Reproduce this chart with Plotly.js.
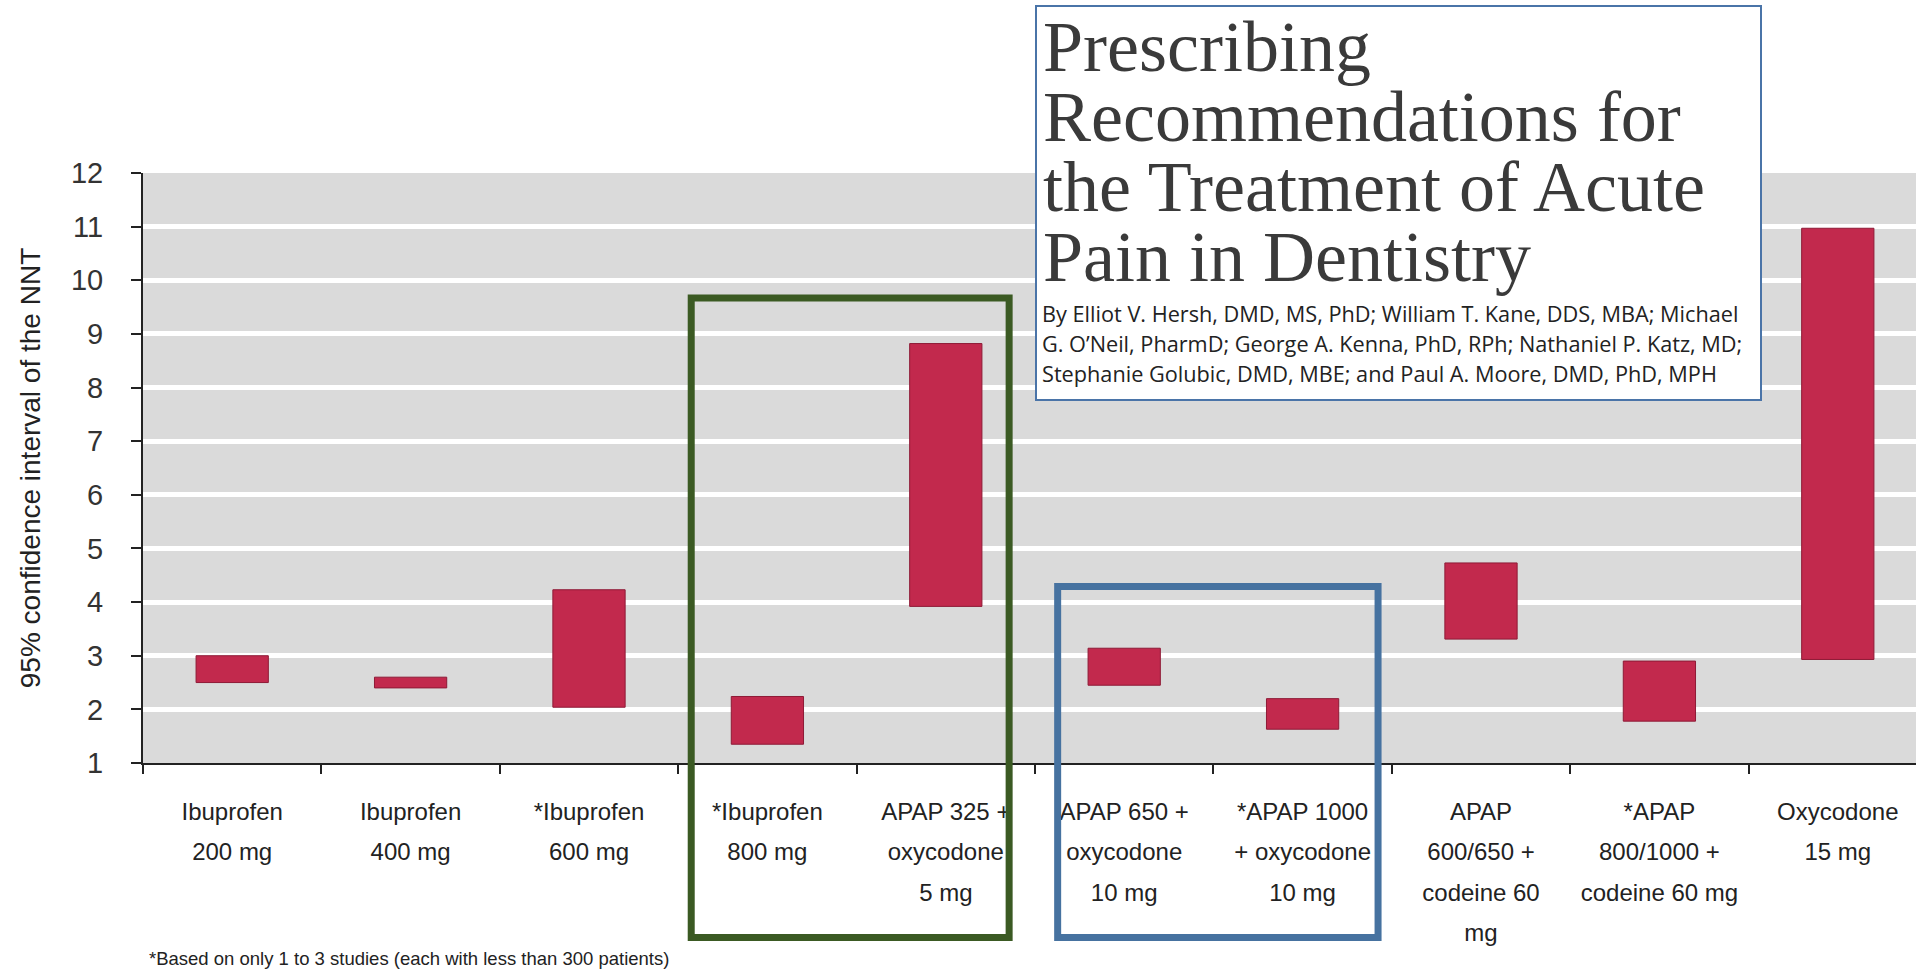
<!DOCTYPE html>
<html>
<head>
<meta charset="utf-8">
<script src="https://cdn.plot.ly/plotly-3.0.1.min.js"></script>
<style>
  html, body { margin: 0; padding: 0; background: #ffffff; }
  #chart { width: 1916px; height: 970px; }
</style>
</head>
<body>
<div id="chart"></div>
<script>
// ---- Data ----
const categories = [
  "Ibuprofen<br>200 mg",
  "Ibuprofen<br>400 mg",
  "*Ibuprofen<br>600 mg",
  "*Ibuprofen<br>800 mg",
  "APAP 325 +<br>oxycodone<br>5 mg",
  "APAP 650 +<br>oxycodone<br>10 mg",
  "*APAP 1000<br>+ oxycodone<br>10 mg",
  "APAP<br>600/650 +<br>codeine 60<br>mg",
  "*APAP<br>800/1000 +<br>codeine 60 mg",
  "Oxycodone<br>15 mg"
];
// lower and upper limits of the 95% confidence interval of the NNT
const ciLow  = [2.50, 2.40, 2.04, 1.35, 3.92, 2.45, 1.63, 3.31, 1.78, 2.93];
const ciHigh = [3.00, 2.60, 4.23, 2.24, 8.82, 3.14, 2.20, 4.73, 2.90, 10.97];
const yTickValues = [1, 2, 3, 4, 5, 6, 7, 8, 9, 10, 11, 12];

const titleLines = [
  "Prescribing",
  "Recommendations for",
  "the Treatment of Acute",
  "Pain in Dentistry"
];
const authorLines = [
  "By Elliot V. Hersh, DMD, MS, PhD; William T. Kane, DDS, MBA; Michael",
  "G. O\u2019Neil, PharmD; George A. Kenna, PhD, RPh; Nathaniel P. Katz, MD;",
  "Stephanie Golubic, DMD, MBE; and Paul A. Moore, DMD, PhD, MPH"
];
const footnote = "*Based on only 1 to 3 studies (each with less than 300 patients)";
const yTitle = "95% confidence interval of the NNT";

// ---- Layout helpers (pixel geometry of the page) ----
const W = 1916, H = 970;
const M = { l: 143, r: 0, t: 173, b: 207 };
const plotH = H - M.t - M.b;
const plotW = W - M.l - M.r;
const py = (pix) => (H - M.b - pix) / plotH;     // page pixel y -> paper y
const px = (pix) => (pix - M.l) / plotW;         // page pixel x -> paper x

const sans = "'Liberation Sans', Arial, sans-serif";
const TITLE_SIZE = 72, AUTHOR_SIZE = 21.7;
const TITLE_LEAD = 70, AUTHOR_LEAD = 30;   // px between baselines in the reference

const trace = {
  type: "bar",
  x: categories,
  y: ciHigh.map((h, i) => h - ciLow[i]),
  base: ciLow,
  width: 0.405,
  marker: { color: "#c2294d", line: { color: "#8e1a36", width: 1 } },
  hoverinfo: "skip"
};

const annotations = [
  { xref: "paper", yref: "paper",
    x: px(1041), xanchor: "left", align: "left",
    y: py(5), yanchor: "top",
    text: titleLines.join("<br>"), showarrow: false,
    font: { family: "'Liberation Serif', 'DejaVu Serif', serif", size: TITLE_SIZE, color: "#3a3a3a" } },
  { xref: "paper", yref: "paper",
    x: px(1040), xanchor: "left", align: "left",
    y: py(297), yanchor: "top",
    text: authorLines.join("<br>"), showarrow: false,
    font: { family: "'Open Sans', 'Noto Sans', sans-serif", size: AUTHOR_SIZE, color: "#222222" } },
  { xref: "paper", yref: "paper",
    x: px(147), xanchor: "left",
    y: py(958), yanchor: "middle",
    text: footnote, showarrow: false,
    font: { family: sans, size: 18.5, color: "#222222" } }
];

const shapes = [
  // title card
  { type: "rect", xref: "paper", yref: "paper",
    x0: px(1036), x1: px(1761), y0: py(400), y1: py(6),
    fillcolor: "#ffffff", line: { color: "#4a74a8", width: 2 }, layer: "above" },
  // green highlight
  { type: "rect", xref: "x", yref: "paper",
    x0: 2.573, x1: 4.355, y0: py(937.5), y1: py(298),
    fillcolor: "rgba(0,0,0,0)", line: { color: "#3b5a23", width: 7 }, layer: "above" },
  // blue highlight
  { type: "rect", xref: "x", yref: "paper",
    x0: 4.627, x1: 6.423, y0: py(937.5), y1: py(586.4),
    fillcolor: "rgba(0,0,0,0)", line: { color: "#4672a0", width: 7 }, layer: "above" }
];

const layout = {
  width: W, height: H,
  margin: M,
  paper_bgcolor: "#ffffff",
  plot_bgcolor: "#dadada",
  showlegend: false,
  bargap: 0,
  xaxis: {
    type: "category",
    range: [-0.5, -0.5 + plotW / 178.4],
    tickson: "boundaries",
    tickangle: 0,
    ticks: "outside", ticklen: 9, tickwidth: 2, tickcolor: "#222",
    showline: true, linewidth: 2, linecolor: "#222",
    showgrid: false, zeroline: false,
    ticklabelstandoff: 26,
    tickfont: { family: sans, size: 24, color: "#222" },
    fixedrange: true
  },
  yaxis: {
    range: [1, 12],
    tickvals: yTickValues,
    ticktext: yTickValues.map(String),
    ticks: "outside", ticklen: 10, tickwidth: 2, tickcolor: "#222",
    showline: true, linewidth: 2, linecolor: "#222",
    showgrid: true, gridcolor: "#ffffff", gridwidth: 5,
    zeroline: false,
    ticklabelstandoff: 22,
    tickfont: { family: sans, size: 29, color: "#333" },
    title: { text: yTitle, standoff: 22,
             font: { family: sans, size: 28, color: "#222" } },
    fixedrange: true
  },
  shapes: shapes,
  annotations: annotations
};

function scaleDy(nodes, factor) {
  nodes.forEach((t) => {
    const dy = t.getAttribute("dy");
    if (dy && /em$/.test(dy)) {
      const v = parseFloat(dy);
      if (!isNaN(v)) t.setAttribute("dy", (v * factor).toFixed(4) + "em");
    }
  });
}

Plotly.newPlot("chart", [trace], layout, { staticPlot: true, displayModeBar: false }).then(() => {
  // match the reference's line spacing for multi-line texts (Plotly uses 1.3em)
  scaleDy(document.querySelectorAll(".xtick text tspan.line"), 1.3);
  const groups = document.querySelectorAll("g.annotation");
  if (groups[0]) scaleDy(groups[0].querySelectorAll("text tspan.line"), TITLE_LEAD / (1.3 * TITLE_SIZE));
  if (groups[1]) scaleDy(groups[1].querySelectorAll("text tspan.line"), AUTHOR_LEAD / (1.3 * AUTHOR_SIZE));
});
</script>
</body>
</html>
